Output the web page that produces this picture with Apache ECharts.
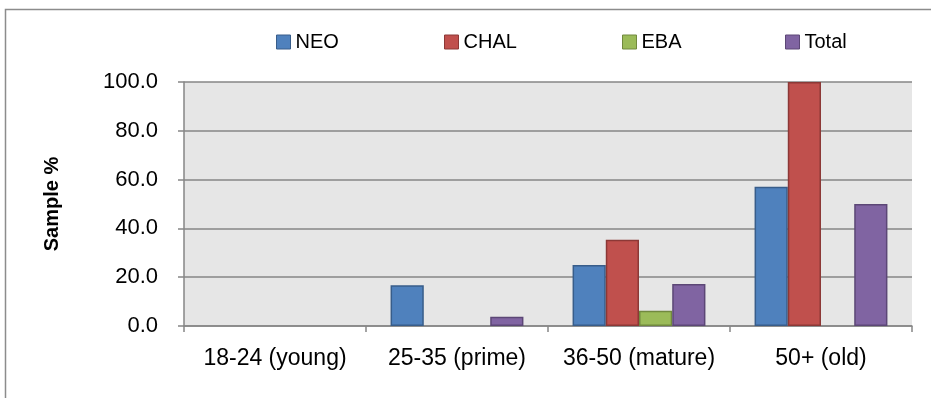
<!DOCTYPE html>
<html>
<head>
<meta charset="utf-8">
<script src="https://cdn.jsdelivr.net/npm/echarts@6/dist/echarts.min.js"></script>
<style>
html, body { margin: 0; padding: 0; background: #fff; }
#chart { width: 931px; height: 398px; }
</style>
</head>
<body>
<div id="chart"></div>
<script>
// categories and series values (percent of sample)
var ageGroups = ['18-24 (young)', '25-35 (prime)', '36-50 (mature)', '50+ (old)'];
var neo = [0, 16.7, 25.0, 57.1];
var chal = [0, 0, 35.3, 100.0];
var eba = [0, 0, 6.3, 0];
var total = [0, 3.8, 17.2, 50.0];

var seriesNames = ['NEO', 'CHAL', 'EBA', 'Total'];
var fills = ['#4F81BD', '#C0504D', '#9BBB59', '#8064A2'];
var borders = ['#385D8A', '#8C3836', '#71893F', '#5C4776'];
var legendLeft = [271, 439, 617, 780];

var font = '"Liberation Sans", Arial, sans-serif';

var chart = echarts.init(document.getElementById('chart'), null, { renderer: 'canvas' });

function makeSeries(name, values, i) {
	return {
		name: name,
		type: 'bar',
		// an empty (zero) bar draws nothing, as in the original
		data: values.map(function (v) { return v === 0 ? '-' : v; }),
		barGap: '0%',
		barCategoryGap: '27%',
		itemStyle: {
			color: fills[i],
			borderColor: borders[i],
			borderWidth: 1.5
		}
	};
}

var legends = seriesNames.map(function (name, i) {
	return {
		data: [name],
		left: legendLeft[i],
		top: 27,
		icon: 'rect',
		itemWidth: 14,
		itemHeight: 14,
		itemGap: 4,
		itemStyle: { borderColor: borders[i], borderWidth: 1 },
		textStyle: { color: '#000', fontSize: 20, fontFamily: font, padding: [0, 0, 0, 0] }
	};
});

chart.setOption({
	animation: false,
	backgroundColor: '#fff',
	graphic: [{
		type: 'rect',
		shape: { x: 5.5, y: 9.5, width: 940, height: 420 },
		style: { fill: 'none', stroke: '#8c8c8c', lineWidth: 1.5 },
		silent: true,
		z: -10
	}],
	legend: legends,
	grid: {
		left: 184,
		right: 19,
		top: 82,
		bottom: 72,
		show: true,
		backgroundColor: '#E6E6E6',
		borderWidth: 0
	},
	xAxis: {
		type: 'category',
		data: ageGroups,
		axisLine: { lineStyle: { color: '#868686', width: 1.5 } },
		axisTick: { show: true, length: 6, alignWithLabel: false, lineStyle: { color: '#868686', width: 1.5 } },
		axisLabel: {
			color: '#000',
			fontSize: 23,
			fontFamily: font,
			margin: 21,
			interval: 0,
			hideOverlap: false
		}
	},
	yAxis: {
		type: 'value',
		min: 0,
		max: 100,
		interval: 20,
		name: 'Sample %',
		nameLocation: 'middle',
		nameGap: 122,
		nameTextStyle: { color: '#000', fontSize: 20, fontWeight: 'bold', fontFamily: font },
		axisLine: { show: true, lineStyle: { color: '#868686', width: 1.5 } },
		axisTick: { show: true, length: 6, lineStyle: { color: '#868686', width: 1.5 } },
		axisLabel: {
			color: '#000',
			fontSize: 22,
			fontFamily: font,
			margin: 26,
			formatter: function (v) { return v.toFixed(1); }
		},
		splitLine: { lineStyle: { color: '#868686', width: 1.5 } }
	},
	series: [
		makeSeries('NEO', neo, 0),
		makeSeries('CHAL', chal, 1),
		makeSeries('EBA', eba, 2),
		makeSeries('Total', total, 3)
	]
});
</script>
</body>
</html>
